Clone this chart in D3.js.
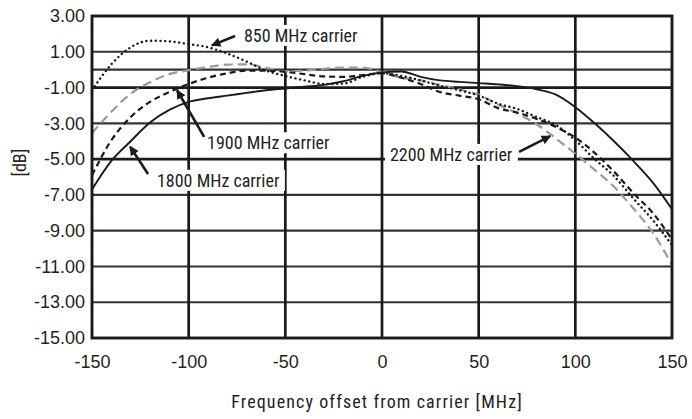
<!DOCTYPE html>
<html>
<head>
<meta charset="utf-8">
<script src="https://cdn.jsdelivr.net/npm/d3@7"></script>
<style>
  body { margin: 0; background: #fff; }
  text { font-family: "Liberation Sans Narrow", "Roboto Condensed", "Liberation Sans", sans-serif; fill: #231f20; }
</style>
</head>
<body>
<svg id="chart" width="692" height="419"></svg>
<script>
// offsets from carrier, MHz
var freq = [-150,-140,-130,-120,-110,-100,-90,-80,-70,-60,-50,-40,-30,-20,-10,0,
            10,20,30,40,50,60,70,80,90,100,110,120,130,140,150];

// response in dB for each carrier
var c1800 = [-6.7,-5.1,-4.0,-2.95,-2.25,-1.8,-1.6,-1.45,-1.3,-1.15,-1.05,-0.95,-0.85,-0.65,-0.35,-0.15,
             -0.1,-0.4,-0.6,-0.68,-0.75,-0.82,-0.92,-1.1,-1.4,-2.1,-3.0,-4.0,-5.1,-6.3,-7.8];
var c1900 = [-5.9,-3.95,-2.65,-1.8,-1.25,-0.8,-0.45,-0.2,-0.05,-0.05,-0.12,-0.25,-0.38,-0.4,-0.3,-0.2,
             -0.45,-0.8,-1.25,-1.45,-1.65,-2.15,-2.4,-2.75,-3.2,-3.8,-4.65,-5.7,-6.9,-8.0,-9.5];
var c850  = [-1.15,0.3,1.25,1.62,1.58,1.43,1.25,0.9,0.45,-0.05,-0.35,-0.6,-0.8,-0.78,-0.4,-0.2,
             -0.35,-0.6,-0.9,-1.15,-1.45,-1.9,-2.2,-2.65,-3.1,-3.95,-5.0,-5.95,-7.2,-8.4,-9.8];
var c2200 = [-3.55,-2.35,-1.35,-0.7,-0.25,-0.03,0.15,0.28,0.3,0.1,-0.1,-0.05,0.05,0.12,0.12,-0.15,
             -0.45,-0.6,-0.85,-1.1,-1.4,-1.95,-2.45,-3.05,-3.85,-4.7,-5.6,-6.55,-7.75,-9.1,-10.9];

var xTicks = [-150,-100,-50,0,50,100,150];
var yTicks = [3,1,-1,-3,-5,-7,-9,-11,-13,-15];
var yGrid  = [1,0,-1,-3,-5,-7,-9,-11,-13];

// labels: text, text anchor (f, dB), arrow tail (f, dB), arrow head (f, dB)
var labelText = ["850 MHz carrier","1900 MHz carrier","1800 MHz carrier","2200 MHz carrier"];
var labelPos  = [[-71.4,1.55],[-90.5,-4.45],[-116.4,-6.55],[4.1,-5.1]];
var arrowFrom = [[-76,1.88],[-92,-3.76],[-121,-5.83],[70.9,-4.6]];
var arrowTo   = [[-88,1.36],[-106,-1.15],[-130.3,-4.3],[87,-3.72]];

var svg = d3.select("#chart");
var pLeft = 92, pRight = 672, pTop = 16, pBottom = 338;

var x = d3.scaleLinear().domain([-150,150]).range([pLeft,pRight]);
var y = d3.scaleLinear().domain([3,-15]).range([pTop,pBottom]);

function hyph(f){ return function(d){ return f(d).replace("\u2212","-"); }; }

// grid
svg.append("g").selectAll("line").data(yGrid).enter().append("line")
  .attr("x1", pLeft).attr("x2", pRight)
  .attr("y1", function(d){ return y(d); }).attr("y2", function(d){ return y(d); })
  .attr("stroke", function(d){ return (d == -1 || d == -5) ? "#1a1a1a" : "#333"; })
  .attr("stroke-width", function(d){ return (d == -1 || d == -5) ? 2.7 : 2.1; });

svg.append("g").selectAll("line").data(xTicks.slice(1,-1)).enter().append("line")
  .attr("y1", pTop).attr("y2", pBottom)
  .attr("x1", function(d){ return x(d); }).attr("x2", function(d){ return x(d); })
  .attr("stroke", "#1a1a1a").attr("stroke-width", 2.7);

// curves
var line = d3.line().curve(d3.curveMonotoneX)
  .x(function(d){ return x(d[0]); }).y(function(d){ return y(d[1]); });

function draw(vals, col, w, dash, cap){
  svg.append("path").datum(d3.zip(freq, vals))
    .attr("d", line).attr("fill", "none")
    .attr("stroke", col).attr("stroke-width", w)
    .attr("stroke-dasharray", dash)
    .attr("stroke-linecap", cap || "butt");
}
draw(c2200, "#9a9a9a", 2.2, "9,5");
draw(c1800, "#1a1a1a", 1.9, null);
draw(c1900, "#1a1a1a", 2.2, "6,4");
draw(c850, "#1a1a1a", 2.4, "0.1,4.6", "round");

// frame
svg.append("rect").attr("x", pLeft).attr("y", pTop)
  .attr("width", pRight-pLeft).attr("height", pBottom-pTop)
  .attr("fill", "none").attr("stroke", "#1a1a1a").attr("stroke-width", 2.9);

// axes
var yAxis = svg.append("g").attr("transform", "translate(" + (pLeft-4) + ",0)")
  .call(d3.axisLeft(y).tickValues(yTicks).tickSize(0).tickFormat(hyph(d3.format(".2f"))));
yAxis.select(".domain").remove();
yAxis.selectAll("text").attr("font-size", 18).attr("fill", "#231f20")
  .style("font-family", "'Liberation Sans Narrow', sans-serif");

var xAxis = svg.append("g").attr("transform", "translate(0," + (pBottom+14) + ")")
  .call(d3.axisBottom(x).tickValues(xTicks).tickSize(0).tickFormat(hyph(d3.format("d"))));
xAxis.select(".domain").remove();
xAxis.selectAll("text").attr("font-size", 18).attr("fill", "#231f20")
  .style("font-family", "'Liberation Sans Narrow', sans-serif");

svg.append("text").attr("x", 377).attr("y", 408)
  .attr("text-anchor", "middle").attr("font-size", 18)
  .style("letter-spacing", "1.1px")
  .text("Frequency offset from carrier [MHz]");

svg.append("text").attr("transform", "translate(26," + y(-5.2) + ") rotate(-90)")
  .attr("text-anchor", "middle").attr("font-size", 18)
  .text("[dB]");

// annotations
svg.append("defs").append("marker").attr("id", "head")
  .attr("viewBox", "0 0 10 10").attr("refX", 9).attr("refY", 5)
  .attr("markerWidth", 4.8).attr("markerHeight", 3.6).attr("orient", "auto")
  .attr("markerUnits", "strokeWidth")
  .append("path").attr("d", "M0,0L10,5L0,10Z").attr("fill", "#1a1a1a");

for (i in labelText){
  var g = svg.append("g");
  var t = g.append("text").attr("x", x(labelPos[i][0])).attr("y", y(labelPos[i][1]))
    .attr("font-size", 18).text(labelText[i]);
  var bb = t.node().getBBox();
  g.insert("rect", "text").attr("x", bb.x-5).attr("y", bb.y)
    .attr("width", bb.width+10).attr("height", bb.height).attr("fill", "#fff");
  svg.append("line")
    .attr("x1", x(arrowFrom[i][0])).attr("y1", y(arrowFrom[i][1]))
    .attr("x2", x(arrowTo[i][0])).attr("y2", y(arrowTo[i][1]))
    .attr("stroke", "#1a1a1a").attr("stroke-width", 2.6)
    .attr("marker-end", "url(#head)");
}
</script>
</body>
</html>
